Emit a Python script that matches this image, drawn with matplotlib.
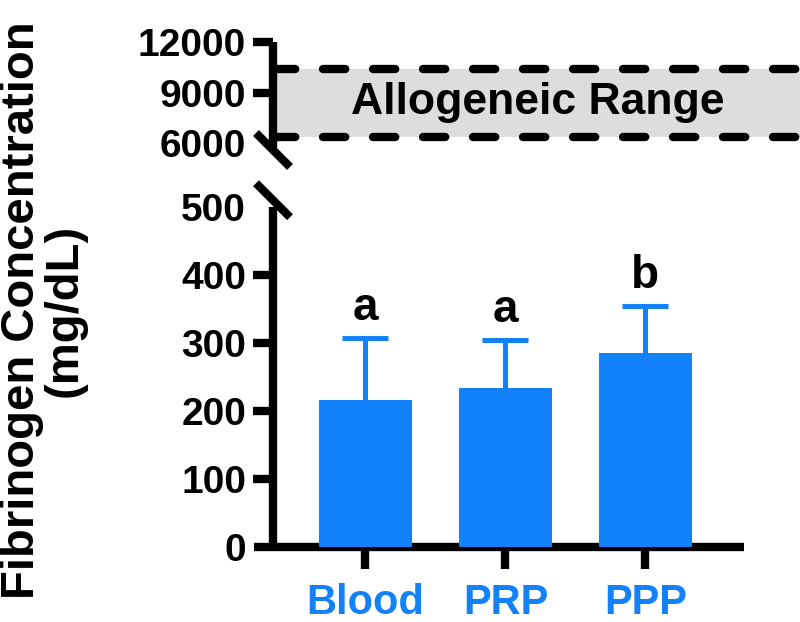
import numpy as np
import matplotlib
matplotlib.use('Agg')
import matplotlib.pyplot as plt

groups = ['Blood', 'PRP', 'PPP']
means = [216, 234, 285]
sem_up = [91, 70, 69]
letters = ['a', 'a', 'b']
range_low, range_high = 6400, 10400
lo_ticks = [0, 100, 200, 300, 400, 500]
hi_ticks = [6000, 9000, 12000]

blue = '#1381F9'
gray = '#DDDDDD'
lw = 6

plt.rcParams['font.family'] = ['Liberation Sans', 'DejaVu Sans']
plt.rcParams['font.weight'] = 'bold'
plt.rcParams['lines.scale_dashes'] = False

W, H = 800, 622
fig = plt.figure(figsize=(W / 100, H / 100), dpi=100)


def rect(l, t, r, b):
    return [l / W, 1 - b / H, (r - l) / W, (b - t) / H]


ax_lo = fig.add_axes(rect(254, 207, 744, 547))
ax_hi = fig.add_axes(rect(254, 42, 800, 150))
sp_lo = 19 / 490
sp_hi = 19 / 546

# lower panel: bars
x = np.arange(len(groups))
ax_lo.bar(x, means, 0.66, color=blue, zorder=3)
eb = ax_lo.errorbar(x, means, yerr=[np.zeros(len(x)), sem_up], fmt='none',
                    ecolor=blue, elinewidth=3.6, capsize=16.5, capthick=3.6, zorder=2)
eb[1][0].set_visible(False)  # no cap at bar top
for xi, m, e, s in zip(x, means, sem_up, letters):
    ax_lo.text(xi, m + e + 12, s, ha='center', va='bottom', fontsize=33, fontweight='bold')

ax_lo.set_xlim(-0.796, 2.704)
ax_lo.set_ylim(0, 500)
ax_lo.set_yticks(lo_ticks)
ax_lo.set_xticks(x)
ax_lo.set_xticklabels(groups)
for s in ['top', 'right']:
    ax_lo.spines[s].set_visible(False)
ax_lo.spines['left'].set_position(('axes', sp_lo))
for s in ['left', 'bottom']:
    ax_lo.spines[s].set_linewidth(lw)
    ax_lo.spines[s].set_capstyle('butt')
ax_lo.tick_params(axis='y', length=14.4, width=lw, pad=5, labelsize=28)
ax_lo.tick_params(axis='x', length=16, width=lw, pad=10, labelsize=30, labelcolor=blue)
ax_lo.yaxis.get_major_ticks()[-1].tick1line.set_visible(False)
ax_lo.yaxis.get_major_ticks()[0].tick1line.set_visible(False)

# upper panel: allogeneic range
ax_hi.axhspan(range_low, range_high, xmin=sp_hi, xmax=1, color=gray, lw=0)
for yv in [range_low, range_high]:
    ln = ax_hi.axhline(yv, xmin=sp_hi, xmax=1, color='black', lw=lw)
    ln.set_dashes((16, 20))
    ln.set_dash_capstyle('round')
ax_hi.text(0.52, (range_low + range_high) / 2, 'Allogeneic Range', transform=ax_hi.get_yaxis_transform(),
           ha='center', va='center', fontsize=32, fontweight='bold')
ax_hi.set_ylim(5600, 12000)
ax_hi.set_yticks(hi_ticks)
ax_hi.set_xticks([])
for s in ['top', 'right', 'bottom']:
    ax_hi.spines[s].set_visible(False)
ax_hi.spines['left'].set_position(('axes', sp_hi))
ax_hi.spines['left'].set_linewidth(lw)
ax_hi.spines['left'].set_capstyle('butt')
ax_hi.tick_params(axis='y', length=14.4, width=lw, pad=5, labelsize=28)
ax_hi.yaxis.get_major_ticks()[0].tick1line.set_visible(False)

# break marks
def brk(ax, sp, yfrac):
    tr = ax.transAxes
    p0 = tr.transform((sp, yfrac))
    pts = np.array([p0 + [-17, 17], p0 + [17, -17]])
    inv = fig.transFigure.inverted()
    q = inv.transform(pts)
    fig.add_artist(plt.Line2D(q[:, 0], q[:, 1], color='black', lw=lw, solid_capstyle='butt'))


brk(ax_hi, sp_hi, 0.0)
brk(ax_lo, sp_lo, 1.02)

fig.text(43 / W, 1 - 310 / H, 'Fibrinogen Concentration\n(mg/dL)', rotation=90,
         ha='center', va='center', fontsize=34, fontweight='bold', linespacing=0.95)

fig.savefig('out.png', dpi=100)
